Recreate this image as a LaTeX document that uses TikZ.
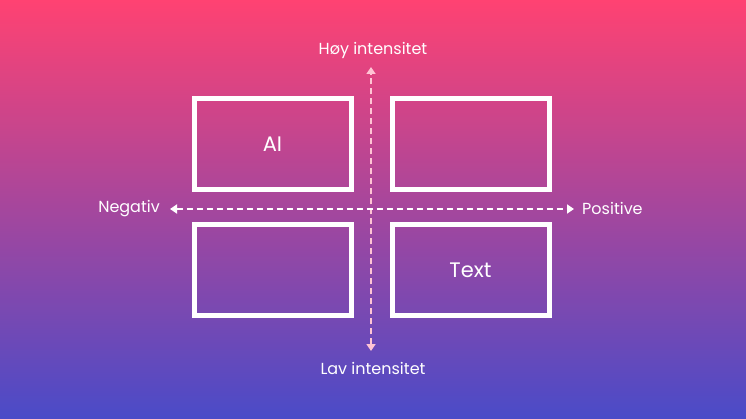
\documentclass[tikz,border=0pt]{standalone}
\usepackage{fontspec}
\setmainfont{Poppins}
\usetikzlibrary{positioning}
\usetikzlibrary{arrows.meta}

\definecolor{bgtop}{HTML}{FF4272}
\definecolor{bgmid}{HTML}{A8429D}
\definecolor{bgbot}{HTML}{4A4BC8}
\definecolor{axispink}{HTML}{FFC4D4}

\begin{document}
\begin{tikzpicture}[
		x=1pt, y=-1pt,
		quad/.style={draw=white, line width=5pt, minimum width=157pt, minimum height=91pt, text=white, font=\fontsize{21}{25}\selectfont},
		axislabel/.style={text=white, font=\fontsize{16}{19}\selectfont, inner sep=0pt},
		vaxis/.style={draw=axispink, line width=2pt, dash pattern=on 6pt off 4pt, {Triangle[width=9pt,length=7pt]}-{Triangle[width=9pt,length=7pt]}},
		haxis/.style={draw=white, line width=2pt, dash pattern=on 6pt off 4pt, {Triangle[width=9pt,length=7pt]}-{Triangle[width=9pt,length=7pt]}}
		]
		
		% Background
		\useasboundingbox (0,0) rectangle (746,419);
		\shade[top color=bgtop, middle color=bgmid, bottom color=bgbot] (0,0) rectangle (746,419);
		
		% Boxes in the top row
		\node[quad] (ai) at (272.5,144.5) {AI};
		\node[quad] (topright) at (470.5,144.5) {};
		
		% Boxes in the bottom row
		\node[quad] (bottomleft) at (272.5,270) {};
		\node[quad] (textbox) at (470.5,270) {Text};
		
		% Axis labels
		\node[axislabel] (hoy) at (373,50) {Høy intensitet};
		\node[axislabel] (lav) at (373,368) {Lav intensitet};
		\node[axislabel, anchor=east] (negativ) at (160,208.5) {Negativ};
		\node[axislabel, anchor=west] (positive) at (582,208.5) {Positive};
		
		% Axis ends
		\coordinate (high) at (371,67);
		\coordinate (low) at (371,351);
		\coordinate (neg) at (170,209);
		\coordinate (pos) at (574,209);
		
		% Axes
		\draw[vaxis] (low) -- (high);
		\draw[haxis] (neg) -- (pos);
		
\end{tikzpicture}
\end{document}
